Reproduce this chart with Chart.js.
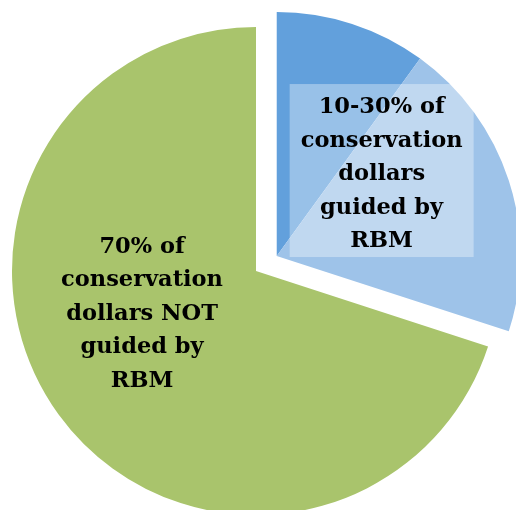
<!DOCTYPE html>
<html>
<head>
<meta charset="utf-8">
<script src="https://cdn.jsdelivr.net/npm/chart.js@4/dist/chart.umd.min.js"></script>
<style>
  html, body { margin: 0; padding: 0; background: #ffffff; }
  #wrap { width: 516px; height: 510px; }
</style>
</head>
<body>
<div id="wrap"><canvas id="pie" width="516" height="510"></canvas></div>
<script>
// Slices in drawing order (clockwise from 12 o'clock)
const sliceNames = ['Guided by RBM (low)', 'Guided by RBM (high)', 'Not guided by RBM'];
const sliceValues = [10, 20, 70];
const sliceColors = ['#62a0dc', '#9ec3e9', '#a9c46c'];
const explodedSlices = [0, 1];

// Label texts, one per group
const guidedLabel = ['10-30% of', 'conservation', 'dollars', 'guided by', 'RBM'];
const notGuidedLabel = ['70% of', 'conservation', 'dollars NOT', 'guided by', 'RBM'];

const labelFont = "bold 22.5px 'DejaVu Serif'";
const lineHeight = 33.5;

// Pull the blue slices out together, along their shared middle angle
const explodePlugin = {
    id: 'explode',
    afterDatasetUpdate(chart, args) {
        const meta = chart.getDatasetMeta(args.index);
        const arcs = explodedSlices.map(i => meta.data[i]);
        const start = Math.min(...arcs.map(a => a.startAngle));
        const end = Math.max(...arcs.map(a => a.endAngle));
        const mid = (start + end) / 2;
        const dist = 0.105 * arcs[0].outerRadius;
        arcs.forEach(a => {
            a.x += Math.cos(mid) * dist;
            a.y += Math.sin(mid) * dist;
        });
    }
};

function drawLines(ctx, lines, cx, cy) {
    const top = cy - (lines.length - 1) * lineHeight / 2;
    lines.forEach((line, i) => {
        ctx.fillText(line, cx, top + i * lineHeight);
    });
}

const labelPlugin = {
    id: 'sliceLabels',
    afterDatasetsDraw(chart) {
        const ctx = chart.ctx;
        const meta = chart.getDatasetMeta(0);
        const blue = meta.data[explodedSlices[0]];
        const green = meta.data[2];
        const r = blue.outerRadius;

        ctx.save();
        // translucent box behind the blue label
        const bx = blue.x + 0.43 * r;
        const by = blue.y - 0.35 * r;
        const bw = 0.754 * r;
        const bh = 0.709 * r;
        ctx.fillStyle = 'rgba(255, 255, 255, 0.35)';
        ctx.fillRect(bx - bw / 2, by - bh / 2, bw, bh);

        ctx.fillStyle = '#000000';
        ctx.font = labelFont;
        ctx.textAlign = 'center';
        ctx.textBaseline = 'middle';
        drawLines(ctx, guidedLabel, bx, by + 4);
        drawLines(ctx, notGuidedLabel, green.x - 0.467 * r, green.y + 0.176 * r);
        ctx.restore();
    }
};

new Chart(document.getElementById('pie'), {
    type: 'pie',
    data: {
        labels: sliceNames,
        datasets: [{
            data: sliceValues,
            backgroundColor: sliceColors,
            borderWidth: 0,
            clip: false
        }]
    },
    options: {
        responsive: false,
        animation: false,
        radius: 244,
        layout: { padding: { top: 32, bottom: 0, left: 0, right: 4 } },
        plugins: {
            legend: { display: false },
            tooltip: { enabled: false }
        }
    },
    plugins: [explodePlugin, labelPlugin]
});
</script>
</body>
</html>
